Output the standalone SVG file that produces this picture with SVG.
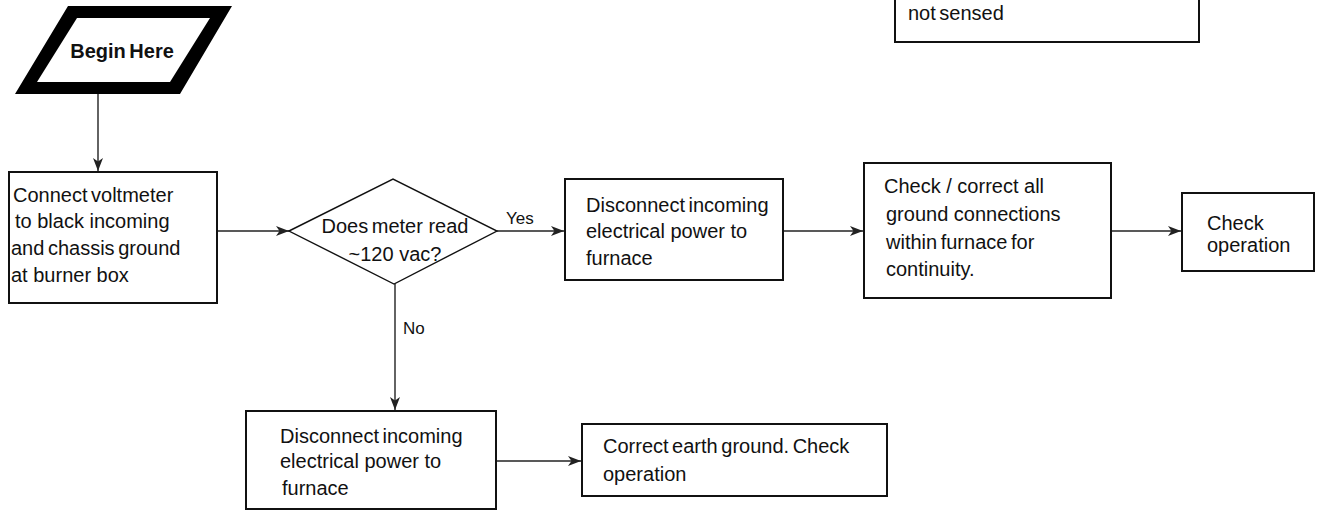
<svg xmlns="http://www.w3.org/2000/svg" width="1320" height="510" viewBox="0 0 1320 510">
  <defs>
    <marker id="arrow" markerWidth="14" markerHeight="11" refX="13" refY="5.5" orient="auto" markerUnits="userSpaceOnUse">
      <path d="M0,0.5 L13,5.5 L0,10.5 L3.5,5.5 Z" fill="#222"/>
    </marker>
    <style>
      .box { fill: #fff; stroke: #111; stroke-width: 2; }
      .t { font-family: "Liberation Sans", Arial, sans-serif; font-size: 20px; fill: #111; }
      .tight { word-spacing: -2px; }
      .lbl { font-family: "Liberation Sans", Arial, sans-serif; font-size: 17px; fill: #111; }
      .conn { fill: none; stroke: #222; stroke-width: 1.4; }
    </style>
  </defs>
  <rect width="1320" height="510" fill="#fff"/>

  <g id="connectors">
    <line class="conn" x1="98" y1="94" x2="98" y2="171" marker-end="url(#arrow)"/>
    <line class="conn" x1="217" y1="231" x2="289" y2="231" marker-end="url(#arrow)"/>
    <line class="conn" x1="497" y1="231" x2="564" y2="231" marker-end="url(#arrow)"/>
    <line class="conn" x1="783" y1="231" x2="863" y2="231" marker-end="url(#arrow)"/>
    <line class="conn" x1="1111" y1="231" x2="1181" y2="231" marker-end="url(#arrow)"/>
    <line class="conn" x1="395" y1="284" x2="395" y2="410" marker-end="url(#arrow)"/>
    <line class="conn" x1="496" y1="461" x2="581" y2="461" marker-end="url(#arrow)"/>
    <text class="lbl" x="506" y="224">Yes</text>
    <text class="lbl" x="403" y="334">No</text>
  </g>

  <g id="node-top">
    <rect class="box" x="895" y="-10" width="304" height="52"/>
    <text class="t tight" x="908" y="20">not sensed</text>
  </g>

  <g id="node-begin">
    <path d="M68,6 L232,6 L180,94 L15,94 Z M77,18 L37,82 L170,82 L210,18 Z" fill="#000" fill-rule="evenodd"/>
    <text class="t tight" x="122" y="58" text-anchor="middle" font-weight="bold">Begin Here</text>
  </g>

  <g id="node-connect">
    <rect class="box" x="9" y="172" width="208" height="131"/>
    <text class="t tight" x="13" y="202">Connect voltmeter</text>
    <text class="t" x="15" y="228">to black incoming</text>
    <text class="t tight" x="11" y="255">and chassis ground</text>
    <text class="t" x="11" y="282">at burner box</text>
  </g>

  <g id="node-decision">
    <polygon points="289,231 393,179 497,231 394,284" fill="#fff" stroke="#111" stroke-width="1.4"/>
    <text class="t" x="395" y="233" text-anchor="middle"><tspan word-spacing="-2">Does meter</tspan> read</text>
    <text class="t" x="395" y="261" text-anchor="middle">~120 vac?</text>
  </g>

  <g id="node-disconnect-yes">
    <rect class="box" x="565" y="179" width="218" height="101"/>
    <text class="t tight" x="586" y="212">Disconnect incoming</text>
    <text class="t" x="586" y="238">electrical power to</text>
    <text class="t" x="586" y="265">furnace</text>
  </g>

  <g id="node-check-ground">
    <rect class="box" x="864" y="163" width="247" height="135"/>
    <text class="t" x="884" y="193">Check / correct all</text>
    <text class="t" x="886" y="221">ground connections</text>
    <text class="t tight" x="886" y="249">within furnace for</text>
    <text class="t" x="886" y="276">continuity.</text>
  </g>

  <g id="node-check-op">
    <rect class="box" x="1182" y="193" width="132" height="78"/>
    <text class="t" x="1207" y="230">Check</text>
    <text class="t" x="1207" y="252">operation</text>
  </g>

  <g id="node-disconnect-no">
    <rect class="box" x="246" y="411" width="250" height="98"/>
    <text class="t tight" x="280" y="443">Disconnect incoming</text>
    <text class="t" x="280" y="468">electrical power to</text>
    <text class="t" x="282" y="495">furnace</text>
  </g>

  <g id="node-correct">
    <rect class="box" x="582" y="424" width="305" height="72"/>
    <text class="t tight" x="603" y="453">Correct earth ground. Check</text>
    <text class="t" x="603" y="481">operation</text>
  </g>
</svg>
